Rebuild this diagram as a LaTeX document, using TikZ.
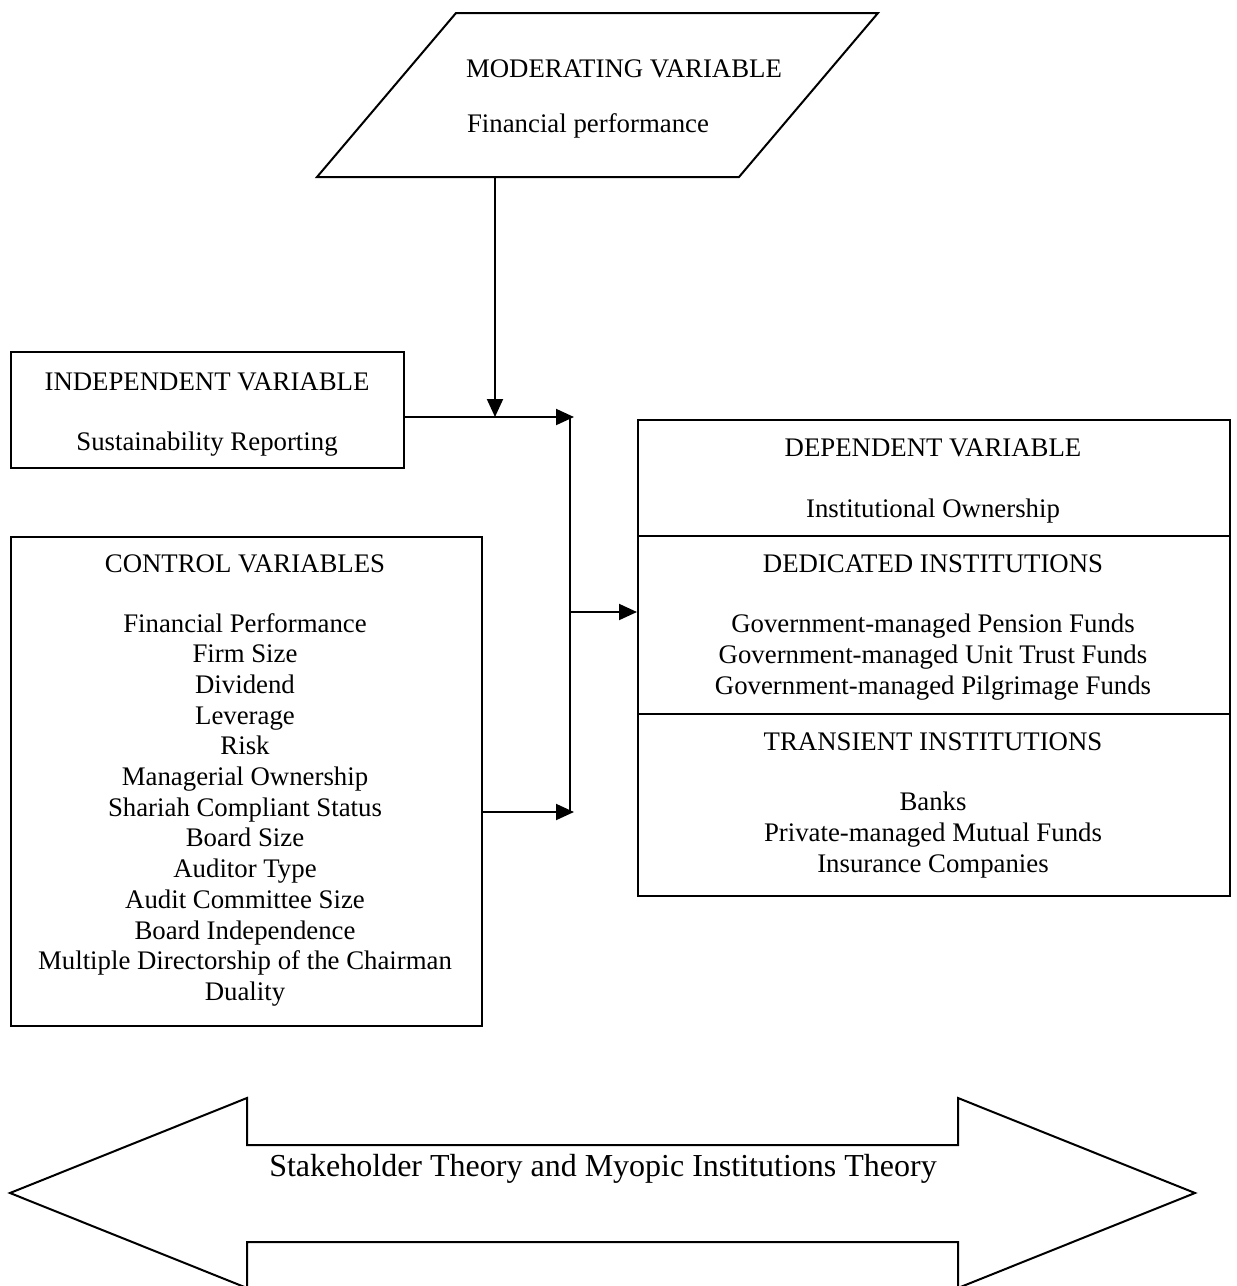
\documentclass[tikz,border=0pt]{standalone}
\usepackage{fontspec}
\setmainfont{Liberation Serif}
\usetikzlibrary{arrows.meta}
\begin{document}
\begin{tikzpicture}[x=1pt,y=-1pt,
  line width=2pt,
  box/.style={draw,line width=2pt,rectangle,inner sep=0pt,anchor=north west},
  txt/.style={anchor=base,inner sep=0pt,font=\fontsize{26.8}{30.8}\selectfont},
  bigtxt/.style={anchor=base,inner sep=0pt,font=\fontsize{32}{36}\selectfont},
  arr/.style={-{Triangle[length=18pt,width=16pt]},line width=2pt}]
\useasboundingbox (0,0) rectangle (1237,1286);
\fill[white] (0,0) rectangle (1237,1286);

% moderating parallelogram
\coordinate (mtl) at (456,13);
\coordinate (mtr) at (878,13);
\coordinate (mbr) at (739,177);
\coordinate (mbl) at (317,177);
\draw (mtl) -- (mtr) -- (mbr) -- (mbl) -- cycle;
\coordinate (modout) at (495,177);
\node[txt] (modt) at (624,77) {MODERATING VARIABLE};
\node[txt] (modf) at (588,132) {Financial performance};

% independent box
\node[box,minimum width=393pt,minimum height=116pt] (ind) at (10,351) {};
\node[txt] (indt) at (207,390) {INDEPENDENT VARIABLE};
\node[txt] (inds) at (207,450) {Sustainability Reporting};

% control box
\node[box,minimum width=471pt,minimum height=489pt] (ctl) at (10,536) {};
\node[txt] (ctlt) at (245,572) {CONTROL VARIABLES};
\foreach \t [count=\i from 0] in {Financial Performance,Firm Size,Dividend,Leverage,Risk,Managerial Ownership,Shariah Compliant Status,Board Size,Auditor Type,Audit Committee Size,Board Independence,Multiple Directorship of the Chairman,Duality}
  \node[txt] (ctl\i) at (245,632+30.7*\i) {\t};

% dependent box
\node[box,minimum width=592pt,minimum height=476pt] (dep) at (637,419) {};
\draw (637,536) -- (1229,536);
\draw (637,714) -- (1229,714);
\node[txt] (dept) at (933,456) {DEPENDENT VARIABLE};
\node[txt] (depi) at (933,517) {Institutional Ownership};
\node[txt] (dedt) at (933,572) {DEDICATED INSTITUTIONS};
\node[txt] (ded1) at (933,632) {Government-managed Pension Funds};
\node[txt] (ded2) at (933,663) {Government-managed Unit Trust Funds};
\node[txt] (ded3) at (933,694) {Government-managed Pilgrimage Funds};
\node[txt] (trat) at (933,750) {TRANSIENT INSTITUTIONS};
\node[txt] (tra1) at (933,810) {Banks};
\node[txt] (tra2) at (933,841) {Private-managed Mutual Funds};
\node[txt] (tra3) at (933,872) {Insurance Companies};

% connectors
\coordinate (j1) at (574,417);
\coordinate (j2) at (574,812);
\coordinate (j3) at (570,612);
\draw (570,417) -- (570,812);
\draw[arr] (ind.east |- j1) -- (j1);
\draw[arr] (ctl.east |- j2) -- (j2);
\draw[arr] (j3) -- (dep.west |- j3);
\draw[arr] (modout) -- (495,417);

% big double arrow
\draw (10,1193) -- (247,1098) -- (247,1145) -- (958,1145) -- (958,1098)
  -- (1195,1193) -- (958,1288) -- (958,1242) -- (247,1242) -- (247,1288) -- cycle;
\node[bigtxt] (theory) at (603,1176) {Stakeholder Theory and Myopic Institutions Theory};
\end{tikzpicture}
\end{document}
